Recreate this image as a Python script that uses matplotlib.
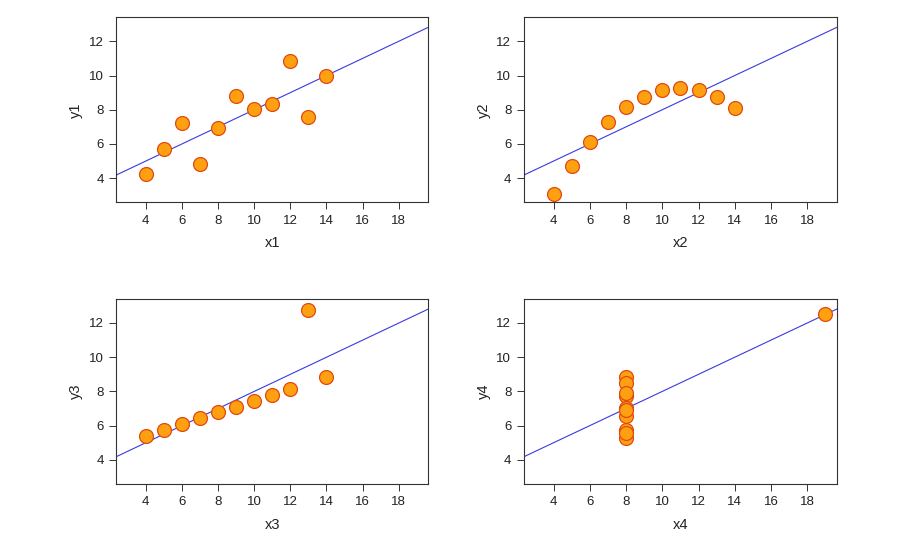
import numpy as np
import matplotlib
matplotlib.use("Agg")
import matplotlib.pyplot as plt

# Anscombe's quartet
x123 = [10, 8, 13, 9, 11, 14, 6, 4, 12, 7, 5]
y1 = [8.04, 6.95, 7.58, 8.81, 8.33, 9.96, 7.24, 4.26, 10.84, 4.82, 5.68]
y2 = [9.14, 8.14, 8.74, 8.77, 9.26, 8.10, 6.13, 3.10, 9.13, 7.26, 4.74]
y3 = [7.46, 6.77, 12.74, 7.11, 7.81, 8.84, 6.08, 5.39, 8.15, 6.42, 5.73]
x4 = [8, 8, 8, 8, 8, 8, 8, 19, 8, 8, 8]
y4 = [6.58, 5.76, 7.71, 8.84, 8.47, 7.04, 5.25, 12.50, 5.56, 7.91, 6.89]

x_ticks = [4, 6, 8, 10, 12, 14, 16, 18]
y_ticks = [4, 6, 8, 10, 12]

plt.rcParams["font.family"] = ["Liberation Sans", "DejaVu Sans"]
plt.rcParams["font.size"] = 9.5

fig = plt.figure(figsize=(9, 5.6), dpi=100)
fig.patch.set_facecolor("white")

panels = [
    (x123, y1, "x1", "y1", [0.129, 0.639, 0.347, 0.330]),
    (x123, y2, "x2", "y2", [0.582, 0.639, 0.348, 0.330]),
    (x123, y3, "x3", "y3", [0.129, 0.136, 0.347, 0.330]),
    (x4, y4, "x4", "y4", [0.582, 0.136, 0.348, 0.330]),
]

for xs, ys, xl, yl, pos in panels:
    ax = fig.add_axes(pos)
    ax.set_facecolor("none")
    # least squares fit, drawn across the whole panel like abline()
    slope, icpt = np.polyfit(xs, ys, 1)
    ax.axline((0, icpt), slope=slope, color="#3a3ae0", lw=0.8, zorder=2)
    ax.scatter(xs, ys, s=100, facecolor="#ffa010", edgecolor="#e04a10",
               linewidth=0.9, zorder=3)
    ax.set_xlim(2.36, 19.64)
    ax.set_ylim(2.6, 13.4)
    ax.set_xticks(x_ticks)
    ax.set_yticks(y_ticks)
    ax.tick_params(direction="out", length=5, width=0.7, color="#333333",
                   labelcolor="#222222", pad=4)
    for sp in ax.spines.values():
        sp.set_color("#333333")
        sp.set_linewidth(0.8)
    ax.set_xlabel(xl, fontsize=10.5, color="#222222", labelpad=7)
    ax.set_ylabel(yl, fontsize=10.5, color="#222222", labelpad=4)

fig.savefig("out.png", dpi=100)
